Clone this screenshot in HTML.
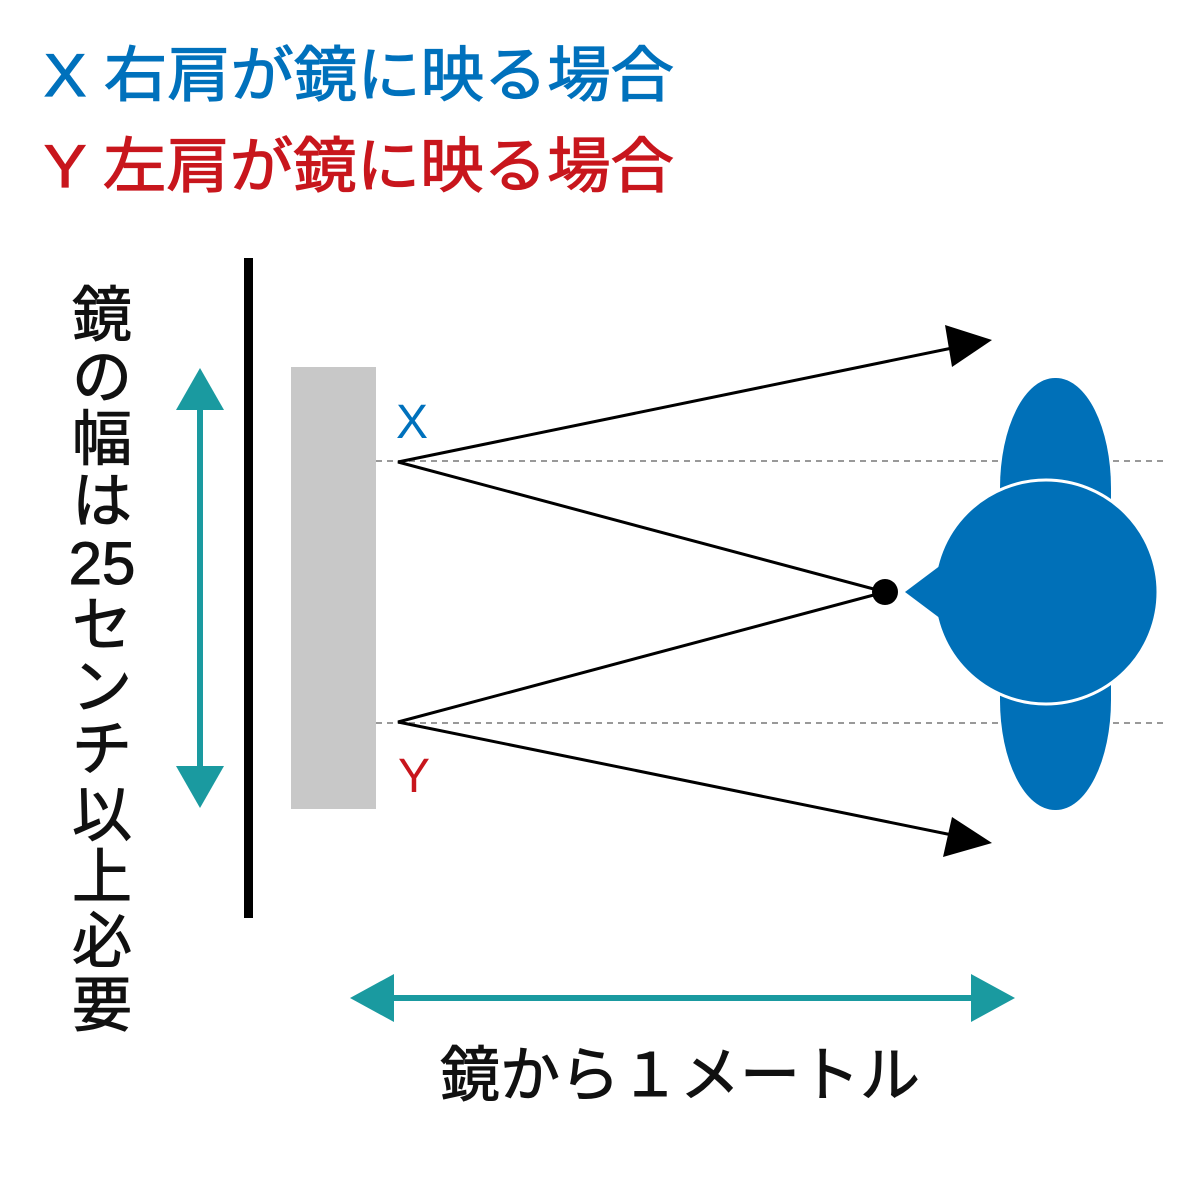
<!DOCTYPE html>
<html><head><meta charset="utf-8"><style>
html,body{margin:0;padding:0;background:#fff;}
svg{display:block;}
text{font-family:"Liberation Sans","Noto Sans CJK JP",sans-serif;}
</style></head><body>
<svg width="1200" height="1200" viewBox="0 0 1200 1200" xmlns="http://www.w3.org/2000/svg">
<text x="44" y="96" font-size="60" fill="#0071bc" stroke="#0071bc" stroke-width="1.2" textLength="630" lengthAdjust="spacingAndGlyphs">X 右肩が鏡に映る場合</text>
<text x="44" y="187" font-size="60" fill="#c8161d" stroke="#c8161d" stroke-width="1.2" textLength="630" lengthAdjust="spacingAndGlyphs">Y 左肩が鏡に映る場合</text>
<rect x="244" y="258" width="9" height="660" fill="#000"/>
<rect x="291" y="367" width="85" height="442" fill="#c8c8c8"/>
<line x1="200" y1="400" x2="200" y2="776" stroke="#1a9aa0" stroke-width="6"/>
<polygon points="200,368 176,410 224,410" fill="#1a9aa0"/>
<polygon points="200,808 176,766 224,766" fill="#1a9aa0"/>
<g font-size="60" fill="#111" stroke="#111" stroke-width="1">
<text x="102" y="336" text-anchor="middle">鏡</text>
<text x="102" y="398" text-anchor="middle">の</text>
<text x="102" y="460" text-anchor="middle">幅</text>
<text x="102" y="522" text-anchor="middle">は</text>
<text x="102" y="584" text-anchor="middle">25</text>
<text x="102" y="646" text-anchor="middle">セ</text>
<text x="102" y="708" text-anchor="middle">ン</text>
<text x="102" y="770" text-anchor="middle">チ</text>
<text x="102" y="836" text-anchor="middle">以</text>
<text x="102" y="898" text-anchor="middle">上</text>
<text x="102" y="962" text-anchor="middle">必</text>
<text x="102" y="1026" text-anchor="middle">要</text>
</g>
<text x="396" y="438" font-size="48" fill="#0071bc">X</text>
<text x="398" y="792" font-size="48" fill="#c8161d">Y</text>
<line x1="376" y1="461" x2="1165" y2="461" stroke="#999" stroke-width="2" stroke-dasharray="6,5"/>
<line x1="376" y1="723" x2="1165" y2="723" stroke="#999" stroke-width="2" stroke-dasharray="6,5"/>
<rect x="1000" y="378" width="111" height="432" rx="55" ry="110" fill="#0070b8"/>
<circle cx="1046" cy="592" r="112" fill="#0070b8" stroke="#fff" stroke-width="3"/>
<polygon points="905,592 945,562 945,622" fill="#0070b8"/>
<g stroke="#000" stroke-width="3" fill="none">
<polyline points="962,346 398,462 885,592 398,722 962,837"/>
</g>
<polygon points="992,340 945,325 952,367" fill="#000"/>
<polygon points="992,843 952,817 943,857" fill="#000"/>
<circle cx="885" cy="592" r="13" fill="#000"/>
<line x1="380" y1="998" x2="985" y2="998" stroke="#1a9aa0" stroke-width="6"/>
<polygon points="350,998 394,974 394,1022" fill="#1a9aa0"/>
<polygon points="1015,998 971,974 971,1022" fill="#1a9aa0"/>
<text x="440" y="1096" font-size="60" fill="#111" stroke="#111" stroke-width="1">鏡から１メートル</text>
</svg>
</body></html>
